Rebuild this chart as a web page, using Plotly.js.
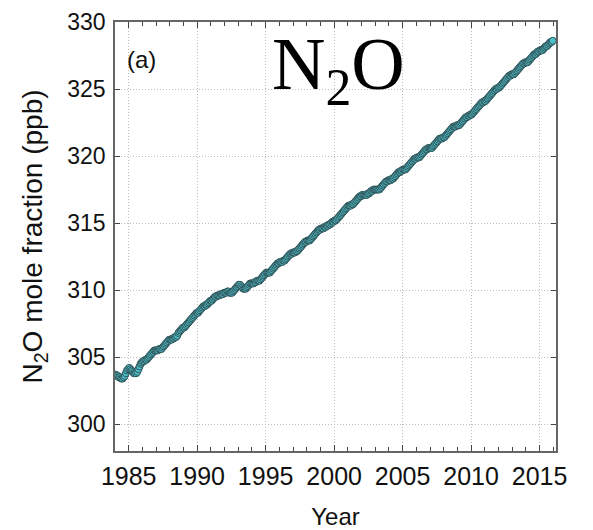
<!DOCTYPE html>
<html>
<head>
<meta charset="utf-8">
<script src="https://cdn.plot.ly/plotly-3.0.1.min.js"></script>
<style>html,body{margin:0;padding:0;background:#fff;}#chart{width:593px;height:530px;}</style>
</head>
<body>
<div id="chart"></div>
<script>
// Monthly N2O mole fraction (ppb), Jan 1984 .. Dec 2015
const startYear = 1984;
const n2o_ppb = [
303.7,303.6,303.6,303.5,303.5,303.4,303.4,303.5,303.6,303.8,304.0,304.1,
304.2,304.1,304.0,303.9,303.8,303.8,303.8,303.9,304.1,304.3,304.5,304.6,
304.7,304.7,304.8,304.8,304.9,305.0,305.1,305.2,305.3,305.4,305.5,305.5,
305.5,305.5,305.6,305.6,305.6,305.7,305.8,305.9,306.0,306.1,306.2,306.3,
306.3,306.3,306.4,306.4,306.5,306.5,306.6,306.8,306.9,307.0,307.1,307.2,
307.2,307.3,307.4,307.5,307.6,307.7,307.8,307.9,308.0,308.1,308.2,308.3,
308.3,308.4,308.5,308.6,308.7,308.8,308.8,308.9,308.9,309.0,309.1,309.2,
309.2,309.3,309.4,309.5,309.5,309.6,309.6,309.6,309.7,309.7,309.7,309.8,
309.8,309.8,309.9,309.9,309.8,309.8,309.8,309.9,310.0,310.1,310.2,310.3,
310.4,310.4,310.3,310.2,310.1,310.1,310.1,310.2,310.3,310.4,310.5,310.5,
310.5,310.5,310.6,310.6,310.7,310.7,310.7,310.8,310.9,311.0,311.1,311.2,
311.3,311.3,311.3,311.3,311.4,311.5,311.6,311.7,311.8,311.9,312.0,312.0,
312.1,312.1,312.1,312.2,312.2,312.3,312.4,312.5,312.6,312.7,312.7,312.8,
312.8,312.8,312.9,312.9,313.0,313.1,313.2,313.3,313.4,313.5,313.6,313.6,
313.7,313.7,313.7,313.8,313.9,314.0,314.1,314.2,314.3,314.4,314.5,314.5,
314.6,314.6,314.6,314.7,314.7,314.8,314.8,314.9,314.9,315.0,315.1,315.1,
315.2,315.2,315.3,315.4,315.5,315.6,315.7,315.8,315.9,316.0,316.1,316.2,
316.3,316.3,316.3,316.4,316.4,316.5,316.6,316.7,316.8,316.9,317.0,317.0,
317.1,317.1,317.1,317.1,317.1,317.2,317.2,317.3,317.4,317.4,317.5,317.5,
317.5,317.5,317.5,317.5,317.6,317.7,317.8,317.9,318.0,318.1,318.1,318.2,
318.2,318.2,318.3,318.3,318.4,318.5,318.6,318.7,318.8,318.8,318.9,318.9,
319.0,319.0,319.0,319.1,319.2,319.3,319.4,319.5,319.6,319.7,319.8,319.8,
319.9,319.9,319.9,320.0,320.1,320.2,320.3,320.4,320.5,320.5,320.6,320.6,
320.6,320.6,320.7,320.8,320.9,321.0,321.1,321.2,321.3,321.3,321.3,321.4,
321.4,321.5,321.6,321.7,321.8,321.9,322.0,322.1,322.2,322.2,322.2,322.3,
322.3,322.3,322.4,322.5,322.6,322.7,322.8,322.9,322.9,323.0,323.0,323.1,
323.1,323.2,323.3,323.4,323.5,323.6,323.7,323.8,323.9,324.0,324.0,324.1,
324.1,324.2,324.3,324.4,324.5,324.6,324.7,324.8,324.9,325.0,325.0,325.1,
325.1,325.2,325.3,325.4,325.5,325.6,325.7,325.8,325.9,326.0,326.0,326.1,
326.1,326.1,326.2,326.3,326.4,326.5,326.6,326.7,326.8,326.9,326.9,327.0,
327.0,327.0,327.1,327.2,327.3,327.4,327.5,327.6,327.6,327.7,327.8,327.8,
327.9,327.9,327.9,328.0,328.1,328.2,328.2,328.3,328.4,328.5,328.5,328.6
];
const xTickVals = [1985, 1990, 1995, 2000, 2005, 2010, 2015];
const yTickVals = [300, 305, 310, 315, 320, 325, 330];

const timeYears = n2o_ppb.map((v, i) => startYear + (i + 0.5) / 12);

const sans = '"Liberation Sans", Arial, sans-serif';
const serif = '"Liberation Serif", "Times New Roman", serif';

const trace = {
  x: timeYears, y: n2o_ppb, type: 'scatter', mode: 'markers',
  marker: {size: 7, color: '#4cc3cc', line: {color: '#33555a', width: 1}},
  hoverinfo: 'x+y'
};

const axisCommon = {
  showline: true, linecolor: '#666', linewidth: 1.5, mirror: 'ticks',
  ticks: 'inside', tickcolor: '#444', tickwidth: 1.2,
  showgrid: true, gridcolor: '#bdbdbd', griddash: '1px,2px', gridwidth: 1,
  zeroline: false
};

const layout = {
  width: 593, height: 530,
  margin: {l: 115, r: 37, t: 22, b: 79},
  paper_bgcolor: '#fff', plot_bgcolor: '#fff',
  showlegend: false,
  xaxis: Object.assign({}, axisCommon, {
    range: [1984, 2016.2], tickvals: xTickVals, ticktext: xTickVals.map(String),
    ticklen: 6,
    minor: {dtick: 1, tick0: 1984, ticks: 'inside', ticklen: 4, tickcolor: '#444', showgrid: false},
    tickfont: {family: sans, size: 25, color: '#111'},
    ticklabelstandoff: 2,
    title: {text: 'Year', font: {family: sans, size: 24, color: '#111'}, standoff: 22}
  }),
  yaxis: Object.assign({}, axisCommon, {
    range: [298, 330], tickvals: yTickVals, ticktext: yTickVals.map(String),
    ticklen: 5,
    tickfont: {family: sans, size: 23, color: '#111'},
    ticklabelstandoff: 3,
    title: {text: 'N<sub>2</sub>O mole fraction (ppb)', font: {family: sans, size: 28, color: '#111'}, standoff: 16}
  }),
  annotations: [
    {xref: 'paper', yref: 'paper', x: 0.506, y: 1.003, xanchor: 'center', yanchor: 'top',
     text: 'N<sub>2</sub>O', showarrow: false, font: {family: serif, size: 74, color: '#000'}},
    {xref: 'paper', yref: 'paper', x: 0.022, y: 0.913, xanchor: 'left', yanchor: 'middle',
     text: '(a)', showarrow: false, font: {family: sans, size: 24, color: '#111'}}
  ]
};

Plotly.newPlot('chart', [trace], layout, {displayModeBar: false});
</script>
</body>
</html>
